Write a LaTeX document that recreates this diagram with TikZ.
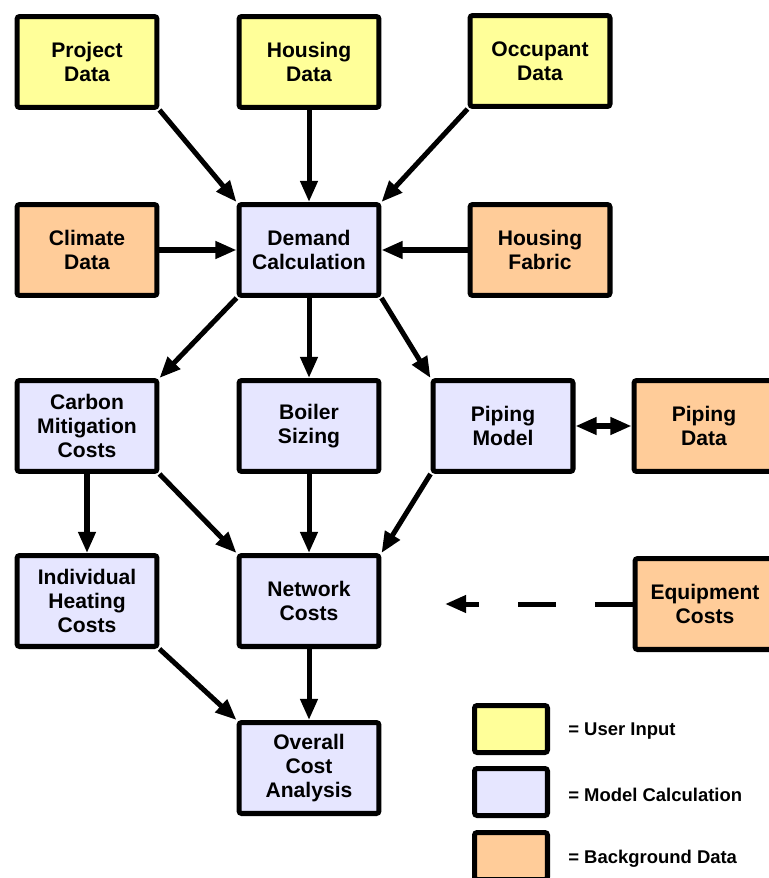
\documentclass[tikz,border=0pt]{standalone}
\usepackage{fontspec}
\setmainfont{Liberation Sans}
\usetikzlibrary{arrows.meta}
\definecolor{userin}{HTML}{FFFF99}
\definecolor{modelcalc}{HTML}{E6E6FF}
\definecolor{bgcolor}{HTML}{FFCC99}
\begin{document}
\begin{tikzpicture}[x=0.02cm,y=-0.02cm,
		box/.style={draw,line width=2.85pt,rounded corners=1.5pt,minimum width=2.8cm,minimum height=1.82cm,inner sep=0pt,align=center,font=\fontsize{12}{13.8}\selectfont\bfseries},
		user/.style={box,fill=userin},
		calc/.style={box,fill=modelcalc},
		bgdata/.style={box,fill=bgcolor},
		key/.style={draw,line width=2.85pt,rounded corners=1.5pt,minimum width=1.46cm,minimum height=0.94cm},
		keytext/.style={anchor=west,inner sep=0pt,font=\fontsize{10.5}{12}\selectfont\bfseries},
		head/.style={Triangle[length=12pt,width=9.5pt]},
		link/.style={line width=2.85pt,-{Triangle[length=12pt,width=9.5pt]}}]
		\useasboundingbox (0,0) rectangle (768,878);

		% inputs
		\node[user] (project) at (87,62) {Project\\Data};
		\node[user] (housing) at (309,62) {Housing\\Data};
		\node[user] (occupant) at (540,61) {Occupant\\Data};
		\node[bgdata] (climate) at (87,250) {Climate\\Data};
		\node[calc] (demand) at (309,250) {Demand\\Calculation};
		\node[bgdata] (fabric) at (540,250) {Housing\\Fabric};

		% model
		\node[calc] (carbon) at (87,426) {Carbon\\Mitigation\\Costs};
		\node[calc] (boiler) at (309,426) {Boiler\\Sizing};
		\node[calc] (piping) at (503,426) {Piping\\Model};
		\node[bgdata] (pipedata) at (704,426) {Piping\\Data};
		\node[calc] (individual) at (87,601) {Individual\\Heating\\Costs};
		\node[calc] (network) at (309,601) {Network\\Costs};
		\node[bgdata] (equipment) at (705,604) {Equipment\\Costs};
		\node[calc] (overall) at (309,768) {Overall\\Cost\\Analysis};
		\coordinate (dashend) at (445,604);

		\draw[link] (project.south east) -- (demand.north west);
		\draw[link] (housing) -- (demand);
		\draw[link] (occupant.south west) -- (demand.north east);
		\draw[link] (climate) -- (demand);
		\draw[link] (fabric) -- (demand);
		\draw[link] (demand.south west) -- (carbon.north east);
		\draw[link] (demand) -- (boiler);
		\draw[link] (demand.south east) -- (piping.north west);
		\draw[link,{Triangle[length=12pt,width=9.5pt]}-{Triangle[length=12pt,width=9.5pt]}] (piping) -- (pipedata);
		\draw[link] (carbon) -- (individual);
		\draw[link] (carbon.south east) -- (network.north west);
		\draw[link] (boiler) -- (network);
		\draw[link] (piping.south west) -- (network.north east);
		\draw[link] (individual.south east) -- (overall.north west);
		\draw[link] (network) -- (overall);
		\draw[link,dash pattern=on 0.76cm off 0.78cm] (equipment.west) -- (dashend);

		% legend
		\node[key,fill=userin] (keyuser) at (511,729) {};
		\node[key,fill=modelcalc] (keycalc) at (511,792) {};
		\node[key,fill=bgcolor] (keybg) at (511,856) {};
		\node[keytext] (keyuserlbl) at (568,731) {= User Input};
		\node[keytext] (keycalclbl) at (568,795) {= Model Calculation};
		\node[keytext] (keybglbl) at (568,859) {= Background Data};
	\end{tikzpicture}
\end{document}
